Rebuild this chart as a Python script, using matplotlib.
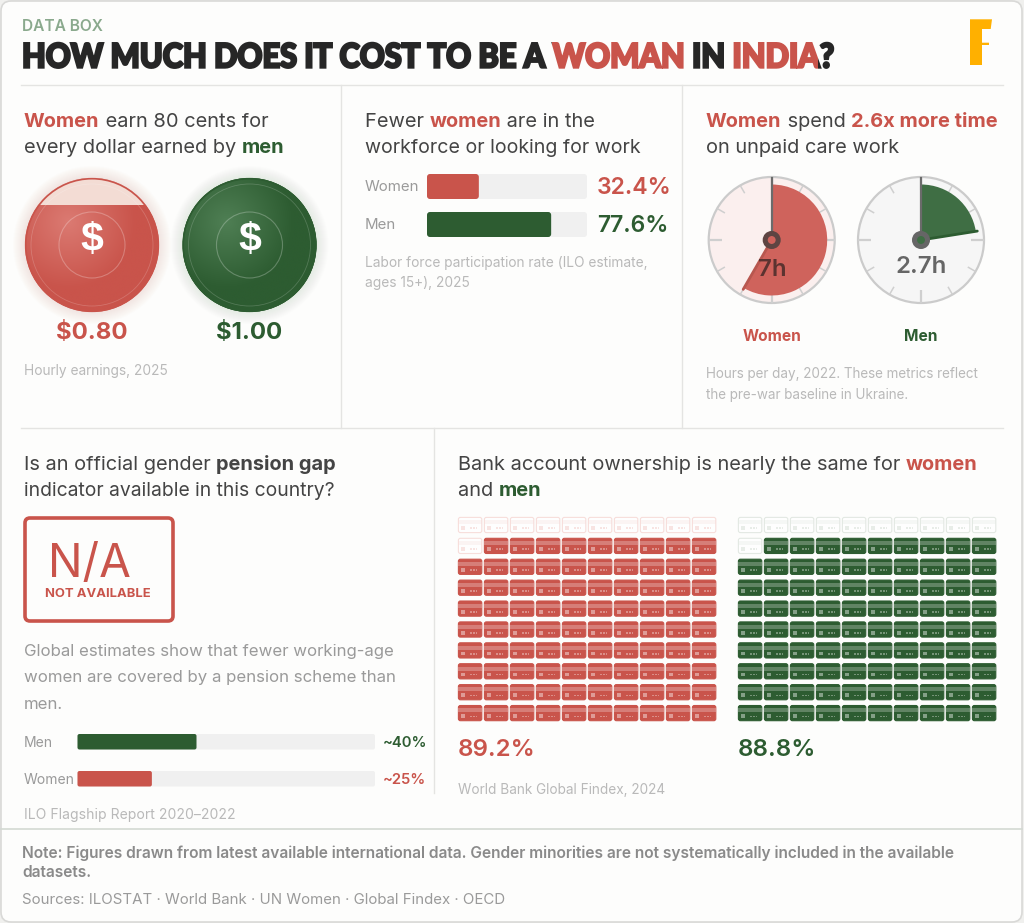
import numpy as np
import matplotlib
matplotlib.use("Agg")
import matplotlib.pyplot as plt
import matplotlib.patheffects as pe
from matplotlib.colors import to_rgb
from matplotlib.transforms import Affine2D, Bbox
from matplotlib.patches import FancyBboxPatch, Circle, Wedge, Rectangle, PathPatch
from matplotlib.path import Path
from matplotlib.colors import LinearSegmentedColormap

# ---------- data ----------
eyebrow = "DATA BOX"
coin_values = [0.80, 1.00]
coin_labels = ["$0.80", "$1.00"]
labor_groups = ["Women", "Men"]
labor_values = [32.4, 77.6]
care_groups = ["Women", "Men"]
care_hours = [7.0, 2.7]
care_labels = ["7h", "2.7h"]
pension_groups = ["Men", "Women"]
pension_values = [40, 25]
pension_labels = ["~40%", "~25%"]
account_values = [89.2, 88.8]
account_labels = ["89.2%", "88.8%"]

RED = "#C9544B"
GREEN = "#2D5C31"
DARK = "#444444"
MID = "#9a9a9a"
MUTE = "#b9b9b9"
LINE = "#e4e4e2"
BG = "#FDFDFC"
TRACK = "#f0f0f0"
BODY = "Inter"

fig = plt.figure(figsize=(10.24, 9.23), dpi=100, facecolor="#f0f0ee")
ax = fig.add_axes([0, 0, 1, 1])
ax.set_xlim(0, 1024)
ax.set_ylim(923, 0)
ax.axis("off")
px = 0.72


class Squeeze(pe.AbstractPathEffect):
    """Narrow one text around its left edge, thicken it, and colour it band by band."""

    def __init__(self, x0, sx, lw, bands):
        super().__init__()
        self.x0, self.sx, self.lw, self.bands = x0, sx, lw, bands

    def draw_path(self, renderer, gc, tpath, affine, rgbFace):
        a = affine + Affine2D().translate(-self.x0, 0).scale(self.sx, 1).translate(self.x0, 0)
        for left, right, colour in self.bands:
            g = renderer.new_gc()
            g.copy_properties(gc)
            g.set_linewidth(self.lw)
            g.set_foreground(colour)
            g.set_joinstyle("miter")
            g.set_clip_rectangle(Bbox.from_extents(left, 0, right, 923))
            renderer.draw_path(g, tpath, a, to_rgb(colour))
            g.restore()


def rrect(x, y, w, h, r, **kw):
    p = FancyBboxPatch((x + r, y + r), w - 2 * r, h - 2 * r,
                       boxstyle=f"round,pad={r},rounding_size={r}", **kw)
    ax.add_patch(p)
    return p


def rich(x, y, segs, size, **kw):
    """segs = list of (text, colour, weight); y = baseline."""
    r = fig.canvas.get_renderer()
    for s, c, w in segs:
        t = ax.text(x, y, s, color=c, fontweight=w, fontsize=size * px, family=BODY,
                    va="baseline", ha="left", **kw)
        x += t.get_window_extent(r).width
    return x


# ---------- card ----------
rrect(1, 1, 1021, 921, 10, fc=BG, ec="#d9d9d7", lw=1.2, zorder=0)
for (x0, y0, x1, y1) in [(21, 85, 1003, 85), (341, 85, 341, 428), (682, 85, 682, 428),
                         (21, 428, 1003, 428), (434, 428, 434, 793)]:
    ax.plot([x0, x1], [y0, y1], color=LINE, lw=1, zorder=1)
ax.plot([1, 1022], [829, 829], color="#d3d9d3", lw=1.2, zorder=1)

# ---------- header ----------
ax.text(22, 31, eyebrow, color="#8aa98d", fontsize=15.5 * px, family=BODY, fontweight="semibold", va="baseline")
title = [("HOW MUCH DOES IT COST TO BE A ", "#262626"), ("WOMAN", RED), (" IN ", "#262626"),
         ("INDIA", RED), ("?", "#262626")]
rt = fig.canvas.get_renderer()
title_x, title_sx = 22, 0.918
title_kw = dict(fontsize=33.5 * px, family="Lato", fontweight="black", va="baseline", ha="left")
bands, left, prefix = [], 0, ""
for s, c in title:
    prefix += s
    probe = ax.text(title_x, 67.5, prefix + "|", **title_kw)
    bar = ax.text(title_x, 67.5, "|", **title_kw)
    right = title_x + (probe.get_window_extent(rt).width - bar.get_window_extent(rt).width) * title_sx
    probe.remove()
    bar.remove()
    bands.append((left, right if s != "?" else 1024, c))
    left = right
ax.text(title_x, 67.5, prefix, color="#262626", path_effects=[Squeeze(title_x, title_sx, 1.7, bands)], **title_kw)
# logo
ax.add_patch(PathPatch(Path([(970, 19.3), (992, 19.3), (990.7, 29), (982, 29), (982, 42.7), (989, 42.7),
                             (989, 45), (982, 45), (982, 65), (970, 65), (970, 19.3)]),
                       fc="#FFB000", ec="none", zorder=3))

# ---------- panel 1: coins ----------
rich(24, 127, [("Women", RED, "bold"), (" earn 80 cents for", DARK, "normal")], 20)
rich(24, 153, [("every dollar earned by ", DARK, "normal"), ("men", GREEN, "bold")], 20)

coin_x = [92, 249.5]
coin_y, coin_r = 245, 67
lights = ["#DB7A72", "#4F7F54"]
bases = [RED, GREEN]
glows = ["#F0A090", "#A9C0AB"]
for cx, val, lab, base, light, glow in zip(coin_x, coin_values, coin_labels, bases, lights, glows):
    for i in range(12):
        ax.add_patch(Circle((cx, coin_y), coin_r + 12 - i, fc=glow, ec="none", alpha=0.02, zorder=2))
    ax.add_patch(Circle((cx, coin_y), coin_r, fc="#F5DDD6" if val < 1 else base, ec="none", zorder=3))
    yy, xx = np.mgrid[-1:1:300j, -1:1:300j]
    d = np.clip(np.hypot(xx + 0.35, yy + 0.35) / 1.0, 0, 1)
    cmap = LinearSegmentedColormap.from_list("c", [light, base])
    top = coin_y + coin_r - 2 * coin_r * val
    im = ax.imshow(d, extent=(cx - coin_r, cx + coin_r, coin_y + coin_r, coin_y - coin_r),
                   cmap=cmap, vmin=0, vmax=1, zorder=3.1, aspect="auto")
    im.set_clip_path(Circle((cx, coin_y), coin_r, transform=ax.transData))
    if val < 1:
        # keep the empty share visible above the fill level
        ax.add_patch(Rectangle((cx - coin_r, coin_y - coin_r), 2 * coin_r, top - (coin_y - coin_r),
                               fc="#F3DCD4", ec="none", zorder=3.2,
                               clip_path=Circle((cx, coin_y), coin_r, transform=ax.transData)))
    ax.add_patch(Circle((cx, coin_y), coin_r - 0.7, fc="none", ec=base, lw=1.2, zorder=3.3))
    ax.add_patch(Circle((cx, coin_y), 61, fc="none", ec="white", lw=0.6, alpha=0.18, zorder=3.4))
    ax.add_patch(Circle((cx, coin_y), 33, fc="none", ec="white", lw=0.8, alpha=0.25, zorder=3.4))
    ax.text(cx, coin_y + 6, "$", color="white", fontsize=41 * px, family="Liberation Sans", fontweight="bold",
            ha="center", va="baseline", zorder=4)
    ax.text(cx, 339, lab, color=base, fontsize=24 * px, family=BODY, fontweight="bold",
            ha="center", va="baseline", zorder=4)
ax.text(24, 375, "Hourly earnings, 2025", color=MUTE, fontsize=13.7 * px, family=BODY, va="baseline")

# ---------- panel 2: labour force ----------
rich(365, 127, [("Fewer ", DARK, "normal"), ("women", RED, "bold"), (" are in the", DARK, "normal")], 20)
rich(365, 153, [("workforce or looking for work", DARK, "normal")], 19.6)
labor_y = [174, 212]
for yy, g, v, c in zip(labor_y, labor_groups, labor_values, [RED, GREEN]):
    rrect(427, yy, 160, 25, 3, fc=TRACK, ec="none", zorder=2)
    rrect(427, yy, 160 * v / 100, 25, 3, fc=c, ec="none", zorder=3)
    ax.text(365, yy + 17, g, color=MID, fontsize=15 * px, family=BODY, va="baseline")
    ax.text(597, yy + 20, f"{v}%", color=c, fontsize=23 * px, family=BODY, fontweight="semibold", va="baseline")
ax.text(365, 267, "Labor force participation rate (ILO estimate,", color=MUTE, fontsize=13.75 * px, family=BODY, va="baseline")
ax.text(365, 287, "ages 15+), 2025", color=MUTE, fontsize=13.75 * px, family=BODY, va="baseline")

# ---------- panel 3: unpaid care ----------
rich(706, 127, [("Women", RED, "bold"), (" spend ", DARK, "normal"), ("2.6x more time", RED, "bold")], 20)
rich(706, 153, [("on unpaid care work", DARK, "normal")], 20)
gauge_x = [771.7, 921]
gauge_y, gauge_r = 240, 63
faces = ["#FBEFEE", "#F6F6F6"]
wedges = ["#CF635C", "#3F6E44"]
hand_c = ["#B8574F", "#2D5C31"]
text_c = ["#5b3330", "#666666"]
hub_c = ["#5E4442", "#666666"]
text_dx = [1, 0]
text_base = [276.5, 273]
for cx, h, lab, g, c, face, wc, hc, tc, hb, dx, tb in zip(gauge_x, care_hours, care_labels, care_groups,
                                                          bases, faces, wedges, hand_c, text_c, hub_c,
                                                          text_dx, text_base):
    ax.add_patch(Circle((cx, gauge_y), gauge_r, fc=face, ec="#cbcbcb", lw=1.6, zorder=2))
    for k in range(12):
        a = np.deg2rad(k * 30)
        inner = gauge_r - (13 if k % 3 == 0 else 9)
        ax.plot([cx + inner * np.sin(a), cx + gauge_r * np.sin(a)],
                [gauge_y - inner * np.cos(a), gauge_y - gauge_r * np.cos(a)],
                color="#cfcfcf", lw=1.6 if k % 3 == 0 else 1.1, zorder=2.1, solid_capstyle="butt")
    sweep = h / 12 * 360
    # y axis is inverted: angles in data space run clockwise from +x
    ax.add_patch(Wedge((cx, gauge_y), 55.5, -90, -90 + sweep, fc=wc, ec="none", zorder=2.5))
    ax.plot([cx, cx], [gauge_y, gauge_y - gauge_r + 1], color="#6b6b6b", lw=1.6, zorder=2.6)
    a = np.deg2rad(sweep)
    ax.plot([cx, cx + 57 * np.sin(a)], [gauge_y, gauge_y - 57 * np.cos(a)], color=hc, lw=2,
            zorder=2.6, solid_capstyle="round")
    ax.add_patch(Circle((cx, gauge_y), 6.5, fc=wc, ec=hb, lw=3.6, zorder=2.7))
    ax.text(cx + dx, tb, lab, color=tc, fontsize=24 * px, family=BODY, fontweight="semibold",
            ha="center", va="baseline", zorder=3)
    ax.text(cx, 341, g, color=c, fontsize=15.5 * px, family=BODY, fontweight="bold", ha="center", va="baseline")
ax.text(706, 378, "Hours per day, 2022. These metrics reflect", color=MUTE, fontsize=13.5 * px, family=BODY, va="baseline")
ax.text(706, 399, "the pre-war baseline in Ukraine.", color=MUTE, fontsize=13.5 * px, family=BODY, va="baseline")

# ---------- panel 4: pension ----------
rich(24, 470, [("Is an official gender ", DARK, "normal"), ("pension gap", DARK, "bold")], 20)
rich(24, 496, [("indicator available in this country?", DARK, "normal")], 19.3)
rrect(25, 518, 148, 103, 5, fc="none", ec=RED, lw=2.6, zorder=3)
ax.text(89.5, 577, "N/A", color=RED, fontsize=46 * px, family=BODY, fontweight="normal", ha="center", va="baseline")
ax.text(98, 597, "NOT AVAILABLE", color=RED, fontsize=13 * px, family=BODY, fontweight="bold", ha="center", va="baseline")
for yy, s in zip([656, 682, 709], ["Global estimates show that fewer working-age",
                                   "women are covered by a pension scheme than", "men."]):
    ax.text(24, yy, s, color=MID, fontsize=16.8 * px, family=BODY, va="baseline")
pension_y = [734, 771]
for yy, g, v, lab, c in zip(pension_y, pension_groups, pension_values, pension_labels, [GREEN, RED]):
    rrect(77.5, yy, 297.5, 15.5, 2, fc=TRACK, ec="none", zorder=2)
    rrect(77.5, yy, 297.5 * v / 100, 15.5, 2, fc=c, ec="none", zorder=3)
    ax.text(24, yy + 13, g, color=MID, fontsize=14 * px, family=BODY, va="baseline")
    ax.text(383, yy + 13, lab, color=c, fontsize=14.8 * px, family=BODY, fontweight="semibold", va="baseline")
ax.text(24, 819, "ILO Flagship Report 2020–2022", color=MUTE, fontsize=14 * px, family=BODY, va="baseline")

# ---------- panel 5: bank accounts ----------
rich(458, 470, [("Bank account ownership is nearly the same for ", DARK, "normal"), ("women", RED, "bold")], 20)
rich(458, 496, [("and ", DARK, "normal"), ("men", GREEN, "bold")], 20)
waffle_x = [458, 738]
for x0, val, lab, c in zip(waffle_x, account_values, account_labels, [RED, GREEN]):
    filled = int(round(val))
    empty = 100 - filled
    pale = "#f7dedb" if c == RED else "#e3e9e3"
    for i in range(100):
        row, col = divmod(i, 10)
        x = x0 + col * 26
        y = 517 + row * 20.9
        on = i >= empty
        rrect(x + .4, y + .4, 23.4, 15.2, 2, fc=c if on else "#fefefe", ec=c if on else pale, lw=0.8, zorder=2)
        ax.add_patch(Rectangle((x + 0.4, y + 3.2), 23.4, 4, fc="white" if on else pale,
                               alpha=0.25 if on else 0.3, ec="none", zorder=2.1))
        ax.add_patch(Rectangle((x + 3, y + 9.2), 4, 3.8, fc="white" if on else pale,
                               alpha=0.42 if on else 0.8, ec="none", zorder=2.1))
        for d in (0, 2.7, 5.4):
            ax.add_patch(Rectangle((x + 12.3 + d, y + 10.4), 1.7, 1.7, fc="white" if on else pale,
                                   alpha=0.35 if on else 0.8, ec="none", zorder=2.1))
    ax.text(x0, 756, lab, color=c, fontsize=24 * px, family=BODY, fontweight="semibold", va="baseline")
ax.text(458, 794, "World Bank Global Findex, 2024", color=MUTE, fontsize=13.6 * px, family=BODY, va="baseline")

# ---------- footer ----------
ax.text(22, 858, "Note: Figures drawn from latest available international data. Gender minorities are not systematically included in the available",
        color="#8a8a8a", fontsize=15.5 * px, family=BODY, fontweight="semibold", va="baseline")
ax.text(22, 877, "datasets.", color="#8a8a8a", fontsize=15.5 * px, family=BODY, fontweight="semibold", va="baseline")
ax.text(22, 904, "Sources: ILOSTAT · World Bank · UN Women · Global Findex · OECD", color=MID, fontsize=15 * px, family=BODY, va="baseline")

ax.set_xlim(0, 1024)
ax.set_ylim(923, 0)
fig.savefig("out.png", dpi=100, facecolor=fig.get_facecolor())
